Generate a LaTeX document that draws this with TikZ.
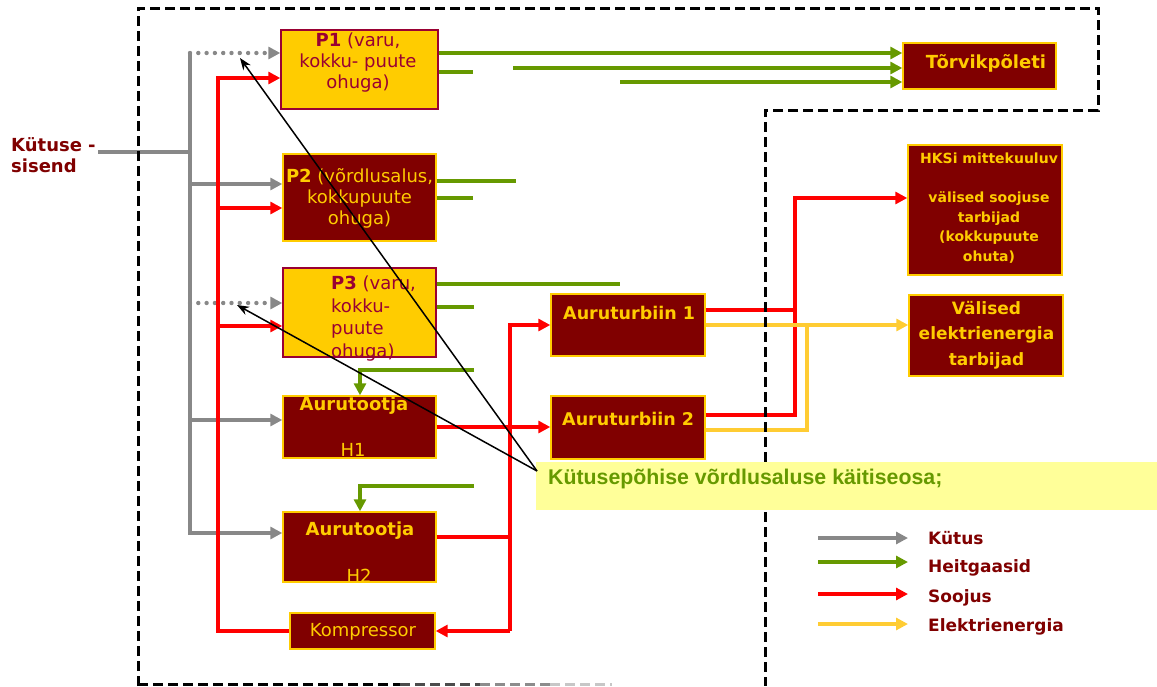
\documentclass[tikz,border=0pt]{standalone}
\usepackage{fontspec}
\setmainfont{DejaVu Sans}
\newfontfamily\notefont{Liberation Sans}
\usetikzlibrary{arrows.meta}

\definecolor{boxred}{HTML}{800000}
\definecolor{boxyel}{HTML}{FFCC00}
\definecolor{plum}{HTML}{990033}
\definecolor{labred}{HTML}{800000}
\definecolor{fuelgray}{HTML}{888888}
\definecolor{gasgreen}{HTML}{669900}
\definecolor{heatred}{HTML}{FF0000}
\definecolor{elecyel}{HTML}{FFCC33}
\definecolor{notefill}{HTML}{FFFF99}

\begin{document}
\begin{tikzpicture}[x=1pt,y=-1pt,
  conn/.style={line width=4.4pt},
  fuel/.style={conn, draw=fuelgray},
  fueldots/.style={fuel, line cap=round, dash pattern=on 0pt off 8.3pt},
  gas/.style={line width=4pt, draw=gasgreen},
  heat/.style={conn, draw=heatred},
  elec/.style={conn, draw=elecyel},
  headed/.style={-{Triangle[length=12pt,width=12pt]}},
  pointer/.style={draw=black, line width=1.5pt, -{Stealth[length=12pt,width=9pt]}},
  frame/.style={draw=black, line width=3pt, dash pattern=on 10pt off 5pt},
  darkbox/.style={draw=boxyel, line width=1.4pt, fill=boxred, inner sep=0pt},
  lightbox/.style={draw=plum, line width=1.4pt, fill=boxyel, inner sep=0pt},
  boxtxt/.style={text=boxyel, inner sep=0pt, align=center, font=\fontsize{18}{21}\selectfont},
  plumtxt/.style={text=plum, inner sep=0pt, font=\fontsize{18}{21}\selectfont},
  hkstxt/.style={text=boxyel, inner sep=0pt, align=center, font=\fontsize{14}{19.6}\selectfont\bfseries},
  labtxt/.style={text=labred, inner sep=0pt, align=left, font=\fontsize{17}{21}\selectfont\bfseries},
  notebox/.style={fill=notefill, draw=none, inner sep=0pt},
]
\useasboundingbox (0,0) rectangle (1157,686);

% ---- boxes ----
\node[lightbox, minimum width=157, minimum height=79] (P1) at (359.5,69.5) {};
\node[darkbox,  minimum width=153, minimum height=87] (P2) at (359.5,197.5) {};
\node[lightbox, minimum width=153, minimum height=89] (P3) at (359.5,312.5) {};
\node[darkbox,  minimum width=153, minimum height=62] (H1) at (359.5,427) {};
\node[darkbox,  minimum width=153, minimum height=70] (H2) at (359.5,547) {};
\node[darkbox,  minimum width=145, minimum height=36] (K)  at (362.5,631) {};
\node[darkbox,  minimum width=154, minimum height=62] (AT1) at (628,325) {};
\node[darkbox,  minimum width=154, minimum height=63] (AT2) at (628,427.5) {};
\node[darkbox,  minimum width=153, minimum height=46] (TP) at (979.5,66) {};
\node[darkbox,  minimum width=154, minimum height=130] (HK) at (985,210) {};
\node[darkbox,  minimum width=154, minimum height=81] (VE) at (986,335.5) {};

% ---- box texts ----
\node[plumtxt, align=center] (P1t) at (358,63) {\textbf{P1} (varu,\\kokku- puute\\ohuga)};
\node[boxtxt] (P2t) at (359.5,198) {\textbf{P2} (võrdlusalus,\\kokkupuute\\ohuga)};
\node[plumtxt, align=left, anchor=west, font=\fontsize{18}{22.5}\selectfont] (P3t) at (331,318.5) {\textbf{P3} (varu,\\kokku-\\puute\\ohuga)};
\node[boxtxt, font=\fontsize{18}{21}\selectfont\bfseries] (H1a) at (354,406) {Aurutootja};
\node[boxtxt] (H1b) at (353,450) {H1};
\node[boxtxt, font=\fontsize{18}{21}\selectfont\bfseries] (H2a) at (360,531) {Aurutootja};
\node[boxtxt] (H2b) at (359,576) {H2};
\node[boxtxt] (Kt) at (363,632) {Kompressor};
\node[boxtxt, anchor=west, font=\fontsize{17.5}{21}\selectfont\bfseries] (AT1t) at (563,313) {Auruturbiin 1};
\node[boxtxt, anchor=west, font=\fontsize{17.5}{21}\selectfont\bfseries] (AT2t) at (562,419) {Auruturbiin 2};
\node[boxtxt, font=\fontsize{18}{21}\selectfont\bfseries] (TPt) at (986,63) {Tõrvikpõleti};
\node[hkstxt] (HKt) at (989,208) {HKSi mittekuuluv\\[19.6pt]välised soojuse\\tarbijad\\(kokkupuute\\ohuta)};
\node[boxtxt, font=\fontsize{17}{25.5}\selectfont\bfseries] (VEt) at (986.5,335) {Välised\\elektrienergia\\tarbijad};
\node[labtxt, font=\fontsize{18}{21}\selectfont\bfseries] (inlab) at (11,155.5) [anchor=west] {Kütuse -\\sisend};

% ---- fuel (gray) ----
\coordinate (fin) at (98,152);
\coordinate (bj) at (190,152);
\coordinate (b1) at (190,53);
\coordinate (b2) at (190,184);
\coordinate (b3) at (190,303);
\coordinate (b4) at (190,420);
\coordinate (b5) at (190,533);
\draw[fuel] (fin) -- (bj);
\draw[fuel, headed] (b1) -- (b5) -- (b5 -| H2.west);
\draw[fueldots, headed] (b1) -- (b1 -| P1.west);
\draw[fuel, headed] (b2) -- (b2 -| P2.west);
\draw[fueldots, headed] (b3) -- (b3 -| P3.west);
\draw[fuel, headed] (b4) -- (b4 -| H1.west);

% ---- heat (red) ----
\coordinate (r1) at (218,78);
\coordinate (r2) at (218,208);
\coordinate (r3) at (218,326);
\coordinate (rb) at (218,631);
\draw[heat, headed] (K.west) -- (rb) -- (r1) -- (r1 -| P1.west);
\draw[heat, headed] (r2) -- (r2 -| P2.west);
\draw[heat, headed] (r3) -- (r3 -| P3.west);
\draw[heat, headed] (H1.east) -- (H1.east -| AT2.west);
\coordinate (rv) at (510,631);
\coordinate (hj) at (510,537);
\draw[heat] (hj -| H2.east) -- (hj);
\draw[heat, headed] (rv) |- (AT1.west);
\draw[heat, headed] (rv) -- (rv -| K.east);
\coordinate (rr1) at (795,310);
\coordinate (rr2) at (795,415);
\coordinate (rrt) at (795,198);
\draw[heat] (rr1 -| AT1.east) -- (rr1);
\draw[heat, headed] (rr2 -| AT2.east) -- (rr2) -- (rrt) -- (rrt -| HK.west);

% ---- electricity (yellow) ----
\coordinate (e1) at (807,325);
\coordinate (e2) at (807,430);
\draw[elec] (e2 -| AT2.east) -- (e2) -- (e1);
\draw[elec, headed] (AT1.east) -- (AT1.east -| VE.west);

% ---- flue gas (green) ----
\coordinate (ga) at (600,53);
\coordinate (gb) at (473,72);
\coordinate (gc) at (513,68);
\coordinate (gd) at (620,82);
\coordinate (ge) at (516,181);
\coordinate (gf) at (473,198);
\coordinate (gg) at (620,284);
\coordinate (gh) at (474,307);
\coordinate (gi) at (474,370);
\coordinate (gi2) at (360,370);
\coordinate (gj) at (474,486);
\coordinate (gj2) at (360,486);
\draw[gas, headed] (ga -| P1.east) -- (ga -| TP.west);
\draw[gas] (gb -| P1.east) -- (gb);
\draw[gas, headed] (gc) -- (gc -| TP.west);
\draw[gas, headed] (gd) -- (gd -| TP.west);
\draw[gas] (ge -| P2.east) -- (ge);
\draw[gas] (gf -| P2.east) -- (gf);
\draw[gas] (gg -| P3.east) -- (gg);
\draw[gas] (gh -| P3.east) -- (gh);
\draw[gas, headed] (gi) -- (gi2) -- (gi2 |- H1.north);
\draw[gas, headed] (gj) -- (gj2) -- (gj2 |- H2.north);

% ---- boundary of the installation ----
\draw[frame] (138,686) -- (138,8) -- (1098,8) -- (1098,110) -- (765,110) -- (765,686);
\draw[frame] (138,684.5) -- (400,684.5);
\draw[frame, draw=black!70] (400,684.5) -- (480,684.5);
\draw[frame, draw=black!45] (480,684.5) -- (550,684.5);
\draw[frame, draw=black!22] (550,684.5) -- (612,684.5);

% ---- note ----
\node[notebox, minimum width=621, minimum height=48] (note) at (846.5,486) {};
\node[inner sep=0pt, anchor=west, text=gasgreen, font=\notefont\bfseries\fontsize{21.3}{24}\selectfont] (notet) at (548,479) {Kütusepõhise võrdlusaluse käitiseosa;};
\coordinate (pt) at (537,471);
\coordinate (pa) at (240,58);
\coordinate (pb) at (237,305);
\draw[pointer] (pt) -- (pa);
\draw[pointer] (pt) -- (pb);

% ---- legend ----
\coordinate (l1a) at (818,538); \coordinate (l1b) at (908,538);
\coordinate (l2a) at (818,562); \coordinate (l2b) at (908,562);
\coordinate (l3a) at (818,594); \coordinate (l3b) at (908,594);
\coordinate (l4a) at (818,624); \coordinate (l4b) at (908,624);
\draw[fuel, headed] (l1a) -- (l1b);
\draw[gas, headed] (l2a) -- (l2b);
\draw[heat, headed] (l3a) -- (l3b);
\draw[elec, headed] (l4a) -- (l4b);
\node[labtxt, anchor=west] (lg1) at (928,538) {Kütus};
\node[labtxt, anchor=west] (lg2) at (928,568) {Heitgaasid};
\node[labtxt, anchor=west] (lg3) at (928,598) {Soojus};
\node[labtxt, anchor=west] (lg4) at (928,627) {Elektrienergia};
\end{tikzpicture}
\end{document}
